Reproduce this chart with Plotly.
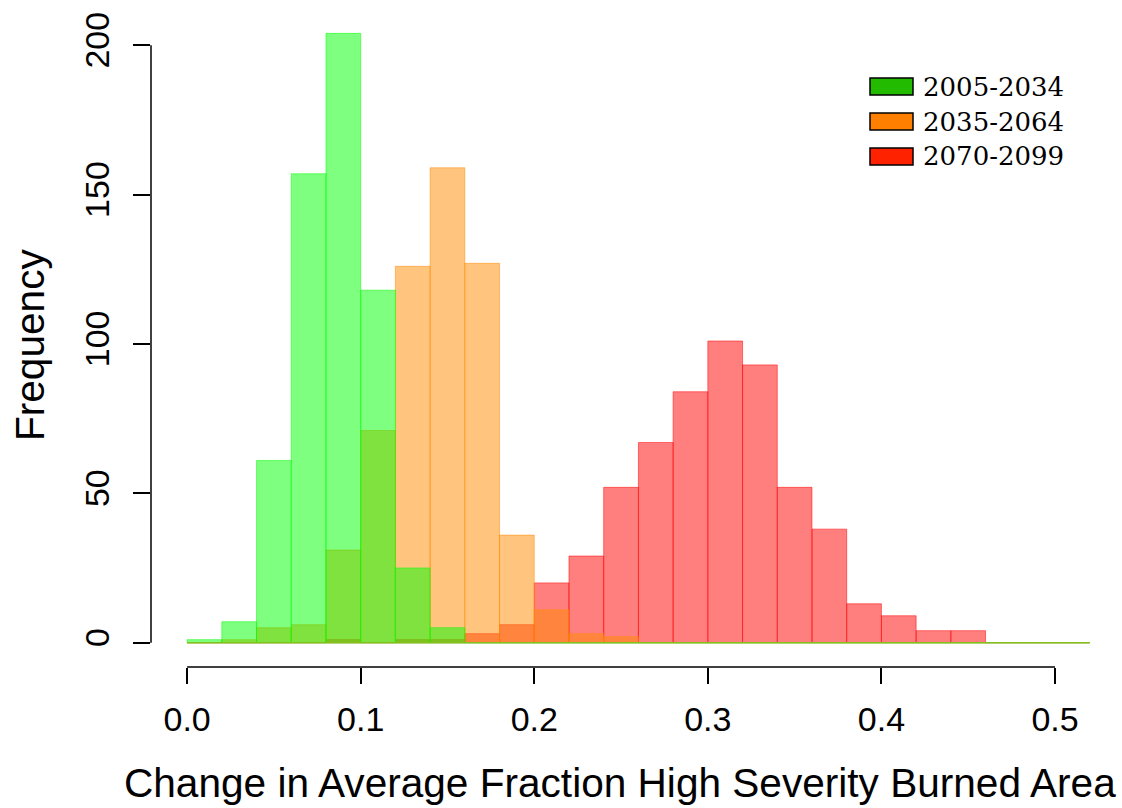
import numpy as np
import plotly.graph_objects as go

# Histogram bins (width 0.02) shared by all three periods
bin_edges = [round(0.02 * i, 2) for i in range(27)]

# Counts per bin for each period
counts_2005_2034 = [1, 7, 61, 157, 204, 118, 25, 5, 0, 0, 0, 0, 0,
                    0, 0, 0, 0, 0, 0, 0, 0, 0, 0, 0, 0, 0]
counts_2035_2064 = [0, 1, 5, 6, 31, 71, 126, 159, 127, 36, 11, 3, 2,
                    0, 0, 0, 0, 0, 0, 0, 0, 0, 0, 0, 0, 0]
counts_2070_2099 = [0, 0, 0, 0, 1, 0, 1, 1, 3, 6, 20, 29, 52,
                    67, 84, 101, 93, 52, 38, 13, 9, 4, 4, 0, 0, 0]

period_labels = ["2005-2034", "2035-2064", "2070-2099"]
hist_colors = ["rgba(0,255,0,0.5)", "rgba(255,140,0,0.5)", "rgba(255,0,0,0.5)"]
legend_colors = ["#22BB00", "#FF8000", "#FF2200"]

x_ticks = [0.0, 0.1, 0.2, 0.3, 0.4, 0.5]
y_ticks = [0, 50, 100, 150, 200]

W, H = 1122, 808
ML, MR, MT, MB = 151, 0, 9, 141
PW, PH = W - ML - MR, H - MT - MB

centers = [(a + b) / 2 for a, b in zip(bin_edges[:-1], bin_edges[1:])]
width = bin_edges[1] - bin_edges[0]

fig = go.Figure()

# Later periods drawn first so the earliest sits on top
series = list(zip(period_labels, [counts_2005_2034, counts_2035_2064, counts_2070_2099], hist_colors))
for label, counts, col in reversed(series):
    fig.add_trace(go.Bar(
        x=centers, y=counts, width=width, name=label,
        marker=dict(color=col, line=dict(color=col, width=1)),
        showlegend=False, hoverinfo="x+y",
    ))

# Bottom edges of all bins (empty ones included)
fig.add_trace(go.Scatter(
    x=[bin_edges[0], bin_edges[-1]], y=[0, 0], mode="lines",
    line=dict(color="rgb(128,194,32)", width=1.5),
    showlegend=False, hoverinfo="skip",
))

xr = [-0.0208, 0.5386]
yr = [-8.16, 212.16]

fig.update_layout(
    width=W, height=H,
    margin=dict(l=ML, r=MR, t=MT, b=MB),
    paper_bgcolor="white", plot_bgcolor="white",
    barmode="overlay",
    font=dict(family="Liberation Sans, Arial, sans-serif", color="black"),
    xaxis=dict(
        range=xr, tickvals=x_ticks, ticktext=[f"{v:.1f}" for v in x_ticks],
        ticks="outside", ticklen=16, tickwidth=1.5, tickcolor="black",
        showline=False, showgrid=False, zeroline=False,
        tickfont=dict(size=34), ticklabelstandoff=6,
    ),
    yaxis=dict(
        range=yr, tickvals=y_ticks, ticktext=[str(v) for v in y_ticks],
        ticks="outside", ticklen=17, tickwidth=1.5, tickcolor="black",
        showline=False, showgrid=False, zeroline=False,
        tickfont=dict(size=34), tickangle=-90, ticklabelstandoff=10,
    ),
)

# R-style axis lines spanning only the tick range
fig.add_shape(type="line", xref="x", yref="paper", x0=x_ticks[0], x1=x_ticks[-1],
              y0=0, y1=0, line=dict(color="black", width=1.5))
fig.add_shape(type="line", xref="paper", yref="y", x0=0, x1=0,
              y0=y_ticks[0], y1=y_ticks[-1], line=dict(color="black", width=1.5))


def px(xp):
    return (xp - ML) / PW


def py(yp):
    return (H - MB - yp) / PH


# Axis titles
fig.add_annotation(text="Change in Average Fraction High Severity Burned Area",
                   xref="paper", yref="paper", x=px(620), y=py(783),
                   showarrow=False, font=dict(size=40.6), xanchor="center", yanchor="middle")
fig.add_annotation(text="Frequency", xref="paper", yref="paper", x=px(30), y=py(345),
                   showarrow=False, font=dict(size=40.6), textangle=-90,
                   xanchor="center", yanchor="middle")

# Legend: filled boxes with labels
for i, (label, col) in enumerate(zip(period_labels, legend_colors)):
    yc = 86.5 + 35 * i
    fig.add_shape(type="rect", xref="paper", yref="paper",
                  x0=px(870), x1=px(913), y0=py(yc + 8.5), y1=py(yc - 8.5),
                  fillcolor=col, line=dict(color="black", width=1.5))
    fig.add_annotation(text=label, xref="paper", yref="paper", x=px(921), y=py(yc),
                       showarrow=False, xanchor="left", yanchor="middle",
                       font=dict(family="DejaVu Serif, serif", size=26))

fig.write_html("out.html")
